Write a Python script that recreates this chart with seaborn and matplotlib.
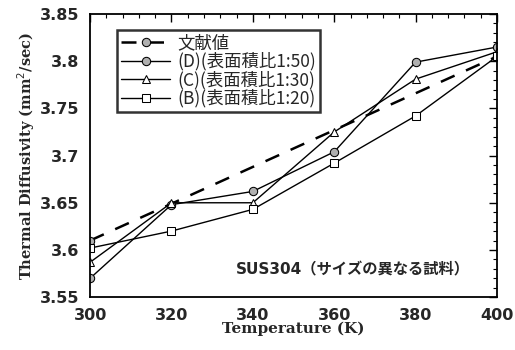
import matplotlib
matplotlib.use("Agg")
import matplotlib.pyplot as plt
from matplotlib.ticker import MultipleLocator, FuncFormatter
import seaborn as sns
import pandas as pd

sns.set_theme(style="white")
plt.rcParams["font.family"] = ["DejaVu Sans", "Noto Sans CJK JP"]

# Temperature (K)
temperature = [300, 320, 340, 360, 380, 400]

# Thermal diffusivity (mm^2/sec)
literature = [3.610, 3.649, 3.688, 3.727, 3.766, 3.805]
sample_d = [3.570, 3.648, 3.662, 3.704, 3.799, 3.815]
sample_c = [3.587, 3.650, 3.650, 3.725, 3.781, 3.810]
sample_b = [3.602, 3.620, 3.643, 3.692, 3.742, 3.805]

labels = ["文献値", "(D)(表面積比1:50)", "(C)(表面積比1:30)", "(B)(表面積比1:20)"]

fig = plt.figure(figsize=(5.15, 3.5), dpi=100)
ax = fig.add_axes([0.175, 0.151, 0.79, 0.809])

df_lit = pd.DataFrame({"T": temperature, "v": literature})
df_d = pd.DataFrame({"T": temperature, "v": sample_d})
df_c = pd.DataFrame({"T": temperature, "v": sample_c})
df_b = pd.DataFrame({"T": temperature, "v": sample_b})

sns.lineplot(data=df_lit, x="T", y="v", ax=ax, color="black", lw=1.8,
             dashes=False, linestyle=(0, (6, 5)), marker="o", markersize=6,
             markerfacecolor="#b0b0b0", markeredgecolor="black",
             markevery=[0, 5], label=labels[0])
sns.lineplot(data=df_d, x="T", y="v", ax=ax, color="black", lw=1.0,
             marker="o", markersize=6, markerfacecolor="#b0b0b0",
             markeredgecolor="black", label=labels[1])
sns.lineplot(data=df_c, x="T", y="v", ax=ax, color="black", lw=1.0,
             marker="^", markersize=6, markerfacecolor="white",
             markeredgecolor="black", label=labels[2])
sns.lineplot(data=df_b, x="T", y="v", ax=ax, color="black", lw=1.0,
             marker="s", markersize=6, markerfacecolor="white",
             markeredgecolor="black", label=labels[3])

ax.set_xlim(300, 400)
ax.set_ylim(3.55, 3.85)
ax.xaxis.set_major_locator(MultipleLocator(20))
ax.xaxis.set_minor_locator(MultipleLocator(4))
ax.yaxis.set_major_locator(MultipleLocator(0.05))
ax.yaxis.set_minor_locator(MultipleLocator(0.01))
ax.yaxis.set_major_formatter(FuncFormatter(lambda v, p: f"{v:.2f}".rstrip("0")))
ax.tick_params(which="both", direction="in", top=True, right=True,
               color="black", labelsize=11.5)
ax.tick_params(which="major", length=6, width=1, pad=8)
ax.tick_params(which="minor", length=3, width=0.8)
for lab in ax.get_xticklabels() + ax.get_yticklabels():
    lab.set_fontweight("bold")
for s in ax.spines.values():
    s.set_color("black")
    s.set_linewidth(1.3)

ax.set_xlabel("Temperature (K)", fontsize=11, fontweight="bold",
              family="DejaVu Serif", labelpad=-1)
ax.set_ylabel("Thermal Diffusivity (mm$^2$/sec)", fontsize=10.5,
              fontweight="bold", family="DejaVu Serif", labelpad=2)

leg = ax.legend(loc="upper left", bbox_to_anchor=(0.045, 0.975),
                prop={"family": ["Noto Sans CJK JP"], "size": 12.5},
                frameon=True, fancybox=False, handlelength=2.8,
                borderpad=0.25, labelspacing=0.0, handletextpad=0.4)
leg.get_frame().set_edgecolor("black")
leg.get_frame().set_linewidth(1.8)

ax.text(0.934, 0.095, "SUS304（サイズの異なる試料）", transform=ax.transAxes,
        ha="right", va="center", fontsize=11, fontweight="bold",
        family=["DejaVu Sans", "Noto Sans CJK JP"])

fig.savefig("out.png", dpi=100)
